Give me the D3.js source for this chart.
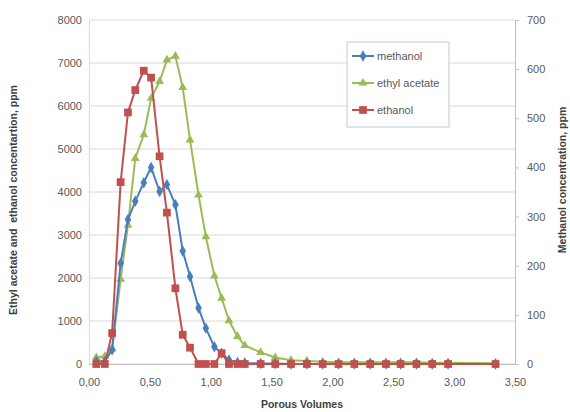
<!DOCTYPE html>
<html>
<head>
<meta charset="utf-8">
<script src="https://cdn.jsdelivr.net/npm/d3@7"></script>
<style>
  body { margin: 0; background: #fff; }
  svg text { font-family: "Liberation Sans", Arial, sans-serif; white-space: pre; }
</style>
</head>
<body>
<div id="chart-area"></div>
<script>
// porous volumes (x)
let pvEarly = [0.06, 0.13, 0.19, 0.26, 0.32, 0.38, 0.45, 0.51, 0.58, 0.64, 0.71, 0.77, 0.83, 0.90, 0.96, 1.03, 1.09, 1.15, 1.22, 1.28];
let pvLate = [1.41, 1.53, 1.66, 1.79, 1.92, 2.05, 2.18, 2.31, 2.44, 2.56, 2.69, 2.82, 2.95, 3.34];

// ethanol, ppm (left axis)
let ethanol = [0, 0, 720, 4230, 5850, 6370, 6820, 6660, 4830, 3520, 1760, 680, 380, 0, 0, 0, 250, 0, 0, 0,
  0, 0, 0, 0, 0, 0, 0, 0, 0, 0, 0, 0, 0, 0];
// ethyl acetate, ppm (left axis)
let ethylAcetate = [150, 180, 350, 1970, 3230, 4780, 5330, 6180, 6570, 7070, 7160, 6430, 5210, 3930, 2960, 2050, 1530, 1010, 640, 430,
  270, 150, 90, 70, 50, 40, 40, 40, 40, 40, 40, 30, 30, 20];
// methanol, ppm (right axis)
let methanol = [5, 5, 29, 205, 294, 331, 369, 400, 351, 365, 324, 230, 178, 114, 73, 35, 22, 8, 3, 2,
  1, 1, 0, 0, 0, 0, 0, 0, 0, 0, 0, 0, 0, 0];

let xTicks = [0, 0.5, 1, 1.5, 2, 2.5, 3, 3.5];
let leftTicks = [0, 1000, 2000, 3000, 4000, 5000, 6000, 7000, 8000];
let rightTicks = [0, 100, 200, 300, 400, 500, 600, 700];

let pv = pvEarly.concat(pvLate);

let margin = { left: 89, right: 55, top: 20, bottom: 48 };
let width = 570 - margin.left - margin.right;
let height = 412 - margin.top - margin.bottom;

let svg = d3.select("#chart-area")
  .append("svg")
    .attr("width", 570)
    .attr("height", 412);

let g = svg.append("g")
  .attr("transform", "translate(" + margin.left + ", " + margin.top + ")");

let x = d3.scaleLinear().domain([0, 3.5]).range([0, width]);
let yL = d3.scaleLinear().domain([0, 8000]).range([height, 0]);
let yR = d3.scaleLinear().domain([0, 700]).range([height, 0]);

let textColor = "#595959";
let fmt = d3.format(".2f");

// gridlines
g.selectAll(".grid")
  .data(leftTicks)
  .enter()
  .append("line")
    .attr("x1", 0)
    .attr("x2", width)
    .attr("y1", d => yL(d))
    .attr("y2", d => yL(d))
    .attr("stroke", "#d9d9d9")
    .attr("stroke-width", 1.2);

// left axis
let leftAxis = g.append("g")
  .call(d3.axisLeft(yL).tickValues(leftTicks).tickSize(0).tickPadding(7).tickFormat(d3.format("d")));
leftAxis.select(".domain").attr("stroke", "#d9d9d9");
leftAxis.selectAll("text").attr("fill", textColor).attr("font-size", "11px");

// right axis
let rightAxis = g.append("g")
  .attr("transform", "translate(" + width + ",0)")
  .call(d3.axisRight(yR).tickValues(rightTicks).tickSize(4).tickPadding(8));
rightAxis.select(".domain").attr("stroke", "#bfbfbf");
rightAxis.selectAll(".tick line").attr("stroke", "#bfbfbf");
rightAxis.selectAll("text").attr("fill", textColor).attr("font-size", "11px");

// x axis
let xAxis = g.append("g")
  .attr("transform", "translate(0," + height + ")")
  .call(d3.axisBottom(x).tickValues(xTicks).tickSize(0).tickPadding(14)
    .tickFormat(d => fmt(d).replace(".", ",")));
xAxis.select(".domain").attr("stroke", "#bfbfbf");
xAxis.selectAll("text").attr("fill", textColor).attr("font-size", "11px");

// series
let series = [
  { name: "methanol", values: methanol, y: yR, color: "#4a7ebb", symbol: d3.symbolDiamond, size: 38 },
  { name: "ethyl acetate", values: ethylAcetate, y: yL, color: "#9bbb59", symbol: d3.symbolTriangle, size: 34 },
  { name: "ethanol", values: ethanol, y: yL, color: "#c0504d", symbol: d3.symbolSquare, size: 60 }
];

let drawOrder = [series[1], series[0], series[2]];

drawOrder.forEach(function(s) {
  let pts = pv.map((v, i) => ({ x: v, y: s.values[i] }));
  let line = d3.line()
    .x(d => x(d.x))
    .y(d => s.y(d.y));
  g.append("path")
    .datum(pts)
    .attr("fill", "none")
    .attr("stroke", s.color)
    .attr("stroke-width", 2)
    .attr("d", line);
  g.selectAll(null)
    .data(pts)
    .enter()
    .append("path")
      .attr("d", d3.symbol().type(s.symbol).size(s.size))
      .attr("transform", d => "translate(" + x(d.x) + "," + s.y(d.y) + ")")
      .attr("fill", s.color);
});

// legend
let legend = svg.append("g")
  .attr("transform", "translate(347, 42)");
legend.append("rect")
  .attr("width", 102)
  .attr("height", 85)
  .attr("fill", "#fff")
  .attr("stroke", "#b8cce4");
series.forEach(function(s, i) {
  let row = legend.append("g")
    .attr("transform", "translate(5," + (14 + i * 27) + ")");
  row.append("line")
    .attr("x1", 0).attr("x2", 22)
    .attr("stroke", s.color)
    .attr("stroke-width", 2);
  row.append("path")
    .attr("d", d3.symbol().type(s.symbol).size(s.size))
    .attr("transform", "translate(11,0)")
    .attr("fill", s.color);
  row.append("text")
    .attr("x", 25)
    .attr("y", 4)
    .attr("font-size", "11px")
    .attr("fill", textColor)
    .text(s.name);
});

// axis titles
svg.append("text")
  .attr("transform", "translate(17,200) rotate(-90)")
  .attr("text-anchor", "middle")
  .attr("font-size", "10.5px")
  .attr("font-weight", "bold")
  .attr("fill", "#404040")
  .text("Ethyl acetate and  ethanol concentartion, ppm");

svg.append("text")
  .attr("transform", "translate(566,180) rotate(-90)")
  .attr("text-anchor", "middle")
  .attr("font-size", "10.5px")
  .attr("font-weight", "bold")
  .attr("fill", "#404040")
  .text("Methanol concentration, ppm");

svg.append("text")
  .attr("x", 302)
  .attr("y", 408)
  .attr("text-anchor", "middle")
  .attr("font-size", "10.5px")
  .attr("font-weight", "bold")
  .attr("fill", "#404040")
  .text("Porous Volumes");
</script>
</body>
</html>
